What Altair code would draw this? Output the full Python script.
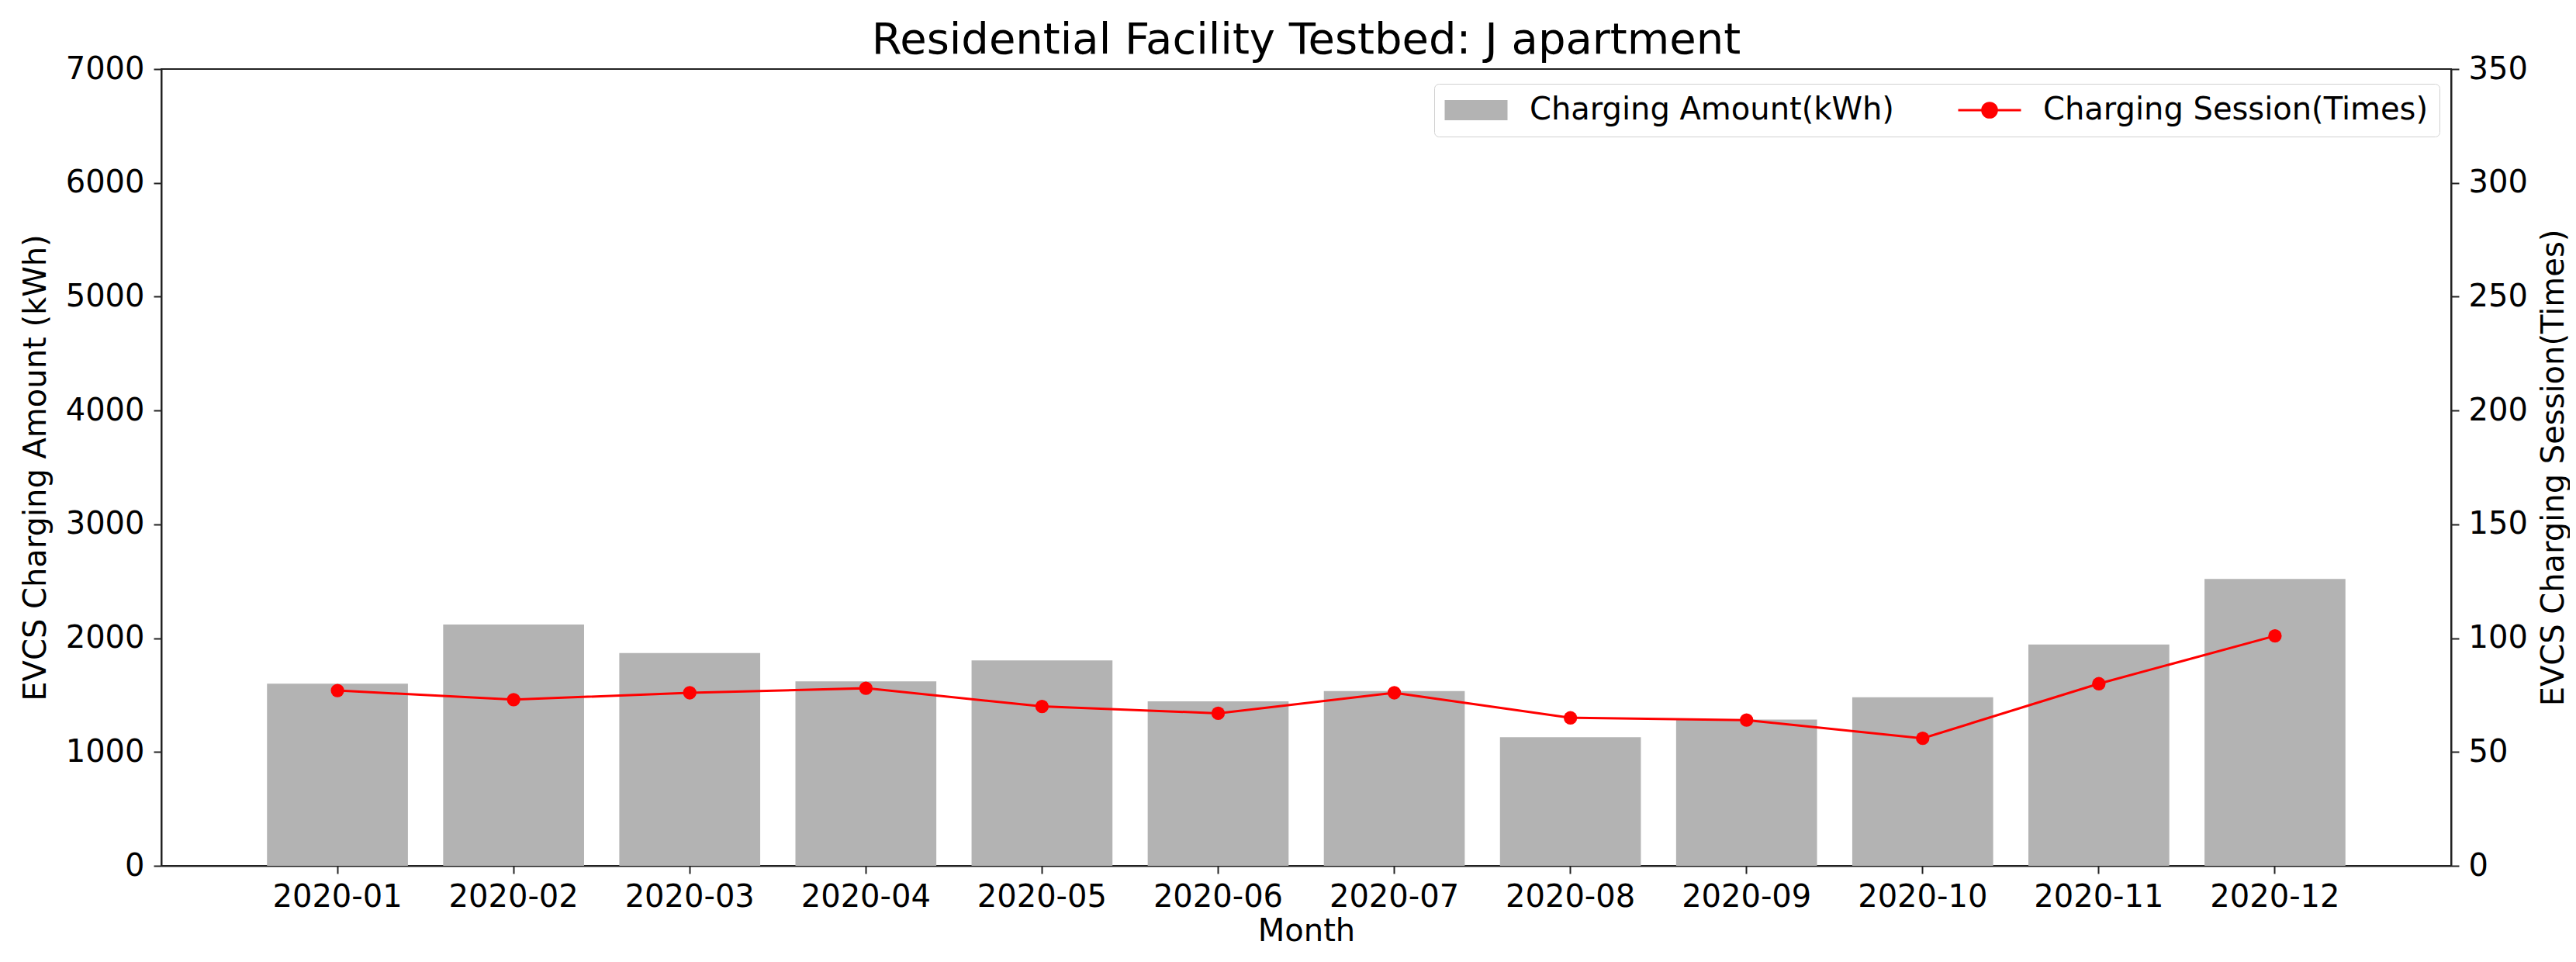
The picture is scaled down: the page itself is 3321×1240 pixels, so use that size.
import altair as alt
import pandas as pd

months = ["2020-01", "2020-02", "2020-03", "2020-04", "2020-05", "2020-06",
          "2020-07", "2020-08", "2020-09", "2020-10", "2020-11", "2020-12"]
amount_kwh = [1600, 2120, 1870, 1620, 1805, 1445, 1535, 1130, 1285, 1480, 1945, 2520]
sessions = [77, 73, 76, 78, 70, 67, 76, 65, 64, 56, 80, 101]
series_names = ["Charging Amount(kWh)", "Charging Session(Times)"]
series_colors = ["#b3b3b3", "#ff0000"]
left_ticks = [0, 1000, 2000, 3000, 4000, 5000, 6000, 7000]
right_ticks = [0, 50, 100, 150, 200, 250, 300, 350]

df = pd.DataFrame({
    "Month": months,
    "amount": amount_kwh,
    "sessions": sessions,
    "s_bar": series_names[0],
    "s_line": series_names[1],
})

FONT = "DejaVu Sans"
AX = "#222222"

rect_path = "M-1,-0.32L1,-0.32L1,0.32L-1,0.32Z"
line_path = "M-1,0L1,0M0.23,0A0.23,0.23,0,1,1,-0.23,0A0.23,0.23,0,1,1,0.23,0Z"

color_scale = alt.Scale(domain=series_names, range=series_colors)
legend = alt.Legend(
    title=None, orient="none", legendX=1641, legendY=19, direction="horizontal",
    labelFontSize=40, labelFont=FONT, labelColor="black", labelLimit=2000,
    symbolSize=6561, padding=14, strokeColor="#d0d0d0", fillColor="white",
    cornerRadius=6, columnPadding=76, labelOffset=49, symbolOffset=20,
    symbolType=alt.ExprRef(expr=f"datum.index === 0 ? '{rect_path}' : '{line_path}'"),
    symbolFillColor=alt.ExprRef(expr=f"datum.index === 0 ? '{series_colors[0]}' : '{series_colors[1]}'"),
    symbolStrokeColor=alt.ExprRef(expr=f"datum.index === 0 ? '{series_colors[0]}' : '{series_colors[1]}'"),
    symbolStrokeWidth=alt.ExprRef(expr="datum.index === 0 ? 0 : 3"),
    symbolOpacity=1,
)

common_axis = dict(labelFontSize=40, titleFontSize=40, labelFont=FONT, titleFont=FONT,
                   titleFontWeight="normal", grid=False, domainColor=AX, domainWidth=2,
                   tickColor=AX, tickWidth=2, tickSize=10, labelColor="black",
                   titleColor="black")

x_enc = alt.X(
    "Month:N",
    sort=months,
    scale=alt.Scale(paddingInner=0.2, paddingOuter=0.6),
    axis=alt.Axis(title="Month", labelAngle=0, labelPadding=10, titlePadding=4,
                  **common_axis),
)

bars = alt.Chart(df).mark_bar(opacity=1).encode(
    x=x_enc,
    y=alt.Y("amount:Q", scale=alt.Scale(domain=[0, 7000], nice=False),
            axis=alt.Axis(title="EVCS Charging Amount (kWh)", values=left_ticks, format="d",
                          labelPadding=12, titlePadding=18, orient="left", **common_axis)),
    color=alt.Color("s_bar:N", scale=color_scale, legend=legend),
)

line = alt.Chart(df).mark_line(strokeWidth=3, point=alt.OverlayMarkDef(size=300, filled=True, opacity=1)).encode(
    x=x_enc,
    y=alt.Y("sessions:Q", scale=alt.Scale(domain=[0, 350], nice=False),
            axis=alt.Axis(title="EVCS Charging Session(Times)", values=right_ticks, format="d",
                          labelPadding=12, titlePadding=14, orient="right",
                          titleAngle=270, titleBaseline="top", **common_axis)),
    color=alt.Color("s_line:N", scale=color_scale, legend=legend),
)

chart = alt.layer(bars, line).resolve_scale(y="independent").properties(
    width=2952,
    height=1027,
    background="white",
    title=alt.TitleParams("Residential Facility Testbed: J apartment", fontSize=56,
                          font=FONT, fontWeight="normal", color="black",
                          baseline="alphabetic", offset=0, dy=56, anchor="middle"),
    autosize=alt.AutoSizeParams(type="none"),
    padding={"left": 200, "top": 81, "right": 153, "bottom": 116},
).configure_view(
    stroke=AX, strokeWidth=2
)

chart.save("out.html", embed_options={"renderer": "svg", "actions": False})
